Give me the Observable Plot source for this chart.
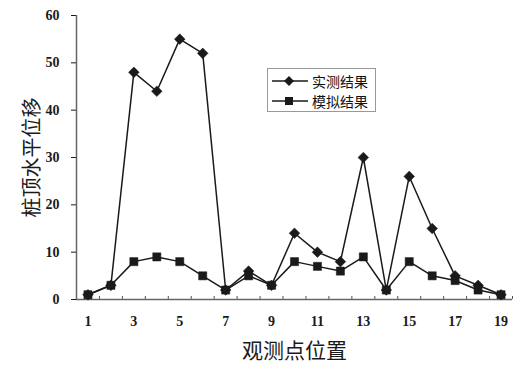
<!DOCTYPE html>
<html><head><meta charset="utf-8">
<script src="https://cdn.jsdelivr.net/npm/d3@7"></script>
<script src="https://cdn.jsdelivr.net/npm/@observablehq/plot@0.6"></script>
<style>
body{margin:0;background:#fff;}
#wrap{position:relative;width:528px;height:365px;}
#legend{position:absolute;left:267px;top:68px;width:107px;height:42px;border:1px solid #999;background:#fff;font-family:"Noto Sans CJK SC",sans-serif;font-size:14px;color:#111;}
#legend .row{position:absolute;left:4px;display:flex;align-items:center;height:20px;}
#legend svg{margin-right:4px;}
</style></head>
<body><div id="wrap"><div id="chart"></div><div id="legend"></div></div>
<script>
const points = [1,2,3,4,5,6,7,8,9,10,11,12,13,14,15,16,17,18,19];
const measured = [1,3,48,44,55,52,2,6,3,14,10,8,30,2,26,15,5,3,1];
const simulated = [1,3,8,9,8,5,2,5,3,8,7,6,9,2,8,5,4,2,1];
const seriesNames = ["实测结果","模拟结果"];
const xTickLabels = [1,3,5,7,9,11,13,15,17,19];
const yTicks = [0,10,20,30,40,50,60];
const xLabel = "观测点位置";
const yLabel = "桩顶水平位移";

const rows = [];
points.forEach((p,i)=>{
  rows.push({x:p, y:measured[i], s:seriesNames[0]});
  rows.push({x:p, y:simulated[i], s:seriesNames[1]});
});
const halfTicks = points.map(p=>p+0.5);
const ink = "#1a1a1a";
const numFont = "'Liberation Serif', serif";

const chart = Plot.plot({
  width:528, height:365,
  marginLeft:76, marginRight:16, marginTop:15, marginBottom:66,
  style:{background:"#fff", color:ink, fontFamily:numFont},
  x:{domain:[0.5,19.5]},
  y:{domain:[0,60]},
  marks:[
    Plot.axisY({ticks:yTicks, tickSize:5, tickPadding:12, fontSize:14, fontWeight:"bold", label:null}),
    Plot.axisY({ticks:[], label:yLabel, labelAnchor:"center", labelArrow:"none", labelOffset:52, fontSize:20, fontFamily:"'Noto Sans CJK SC', sans-serif"}),
    Plot.axisX({ticks:xTickLabels, tickSize:0, tickPadding:17, fontSize:14, fontWeight:"bold", label:null}),
    Plot.axisX({ticks:halfTicks, tickSize:-3, tickFormat:()=>"", label:null, stroke:"#555"}),
    Plot.axisX({ticks:[], label:xLabel, labelAnchor:"center", labelArrow:"none", labelOffset:58, fontSize:21, fontFamily:"'Noto Sans CJK SC', sans-serif"}),
    Plot.ruleY([0], {stroke:"#666", strokeWidth:1.5}),
    Plot.ruleX([0.5], {stroke:"#666", strokeWidth:1.5}),
    Plot.line(rows, {x:"x", y:"y", z:"s", stroke:ink, strokeWidth:1.5}),
    Plot.dot(rows.filter(d=>d.s===seriesNames[0]), {x:"x", y:"y", symbol:"diamond2", r:4.8, fill:ink, stroke:ink, strokeWidth:0.5}),
    Plot.dot(rows.filter(d=>d.s===seriesNames[1]), {x:"x", y:"y", symbol:"square", r:4.6, fill:ink, stroke:ink, strokeWidth:0.5})
  ]
});
document.getElementById("chart").appendChild(chart);

const lg = document.getElementById("legend");
const sym = [
  '<path d="M17,1 L22,6 L17,11 L12,6Z" fill="'+ink+'"/>',
  '<rect x="13" y="2" width="8" height="8" fill="'+ink+'"/>'
];
seriesNames.forEach((n,i)=>{
  const r = document.createElement("div");
  r.className="row";
  r.style.top = (2+i*20)+"px";
  r.innerHTML = '<svg width="36" height="12"><line x1="0" x2="36" y1="6" y2="6" stroke="'+ink+'" stroke-width="1.5"/>'+sym[i]+'</svg><span>'+n+'</span>';
  lg.appendChild(r);
});
</script></body></html>
